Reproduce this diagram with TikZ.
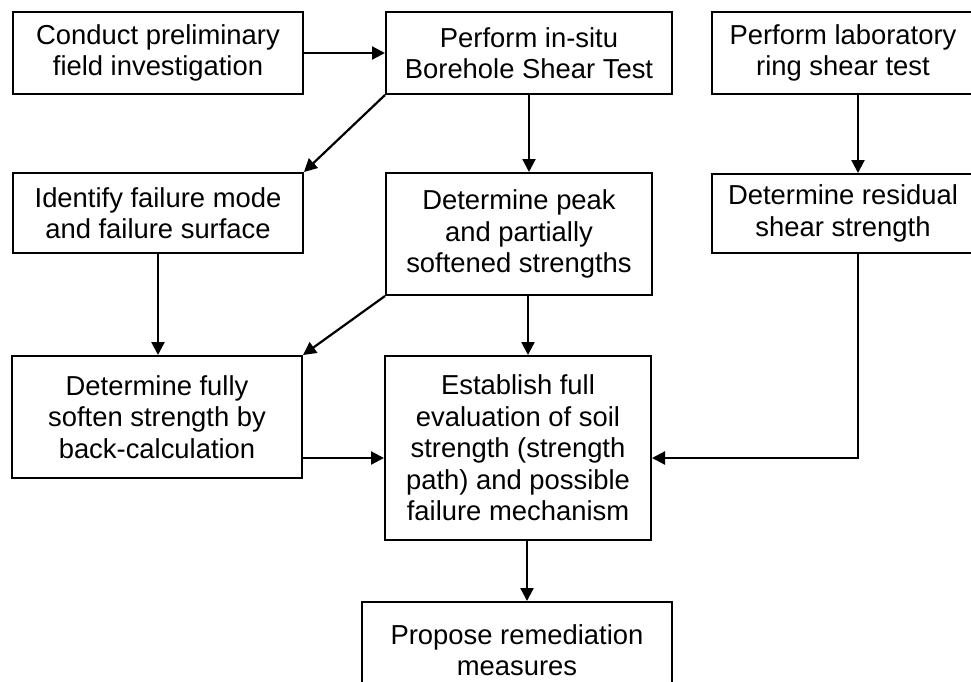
\documentclass[tikz,border=0pt]{standalone}
\usepackage{fontspec}
\setmainfont{Liberation Sans}
\usetikzlibrary{arrows.meta,calc}
\begin{document}
\begin{tikzpicture}[x=1pt,y=-1pt,
  box/.style={draw=black,line width=2pt,inner sep=0pt,align=center,
    font=\fontsize{27.4}{31.5}\selectfont},
  arr/.style={line width=2.2pt,-{Triangle[length=13pt,width=13pt]}}]
\useasboundingbox (0,0) rectangle (971,681);
\clip (0,0) rectangle (971,681);
\fill[white] (0,0) rectangle (971,681);
\node[box,minimum width=290pt,minimum height=82pt] (A) at (158,53) {Conduct preliminary\\field investigation};
\node[box,minimum width=286pt,minimum height=82pt] (B) at (529,53) {Perform in-situ\\Borehole Shear Test};
\node[box,minimum width=262pt,minimum height=82pt] (C) at (843,53) {Perform laboratory\\ring shear test};
\node[box,minimum width=290pt,minimum height=80pt] (D) at (158,213) {Identify failure mode\\and failure surface};
\node[box,minimum width=266pt,minimum height=122pt] (E) at (519,234) {Determine peak\\and partially\\softened strengths};
\node[box,minimum width=262pt,minimum height=79pt] (F) at (843,213.5) {Determine residual\\shear strength};
\node[box,minimum width=290pt,minimum height=122pt] (G) at (157,417) {Determine fully\\soften strength by\\back-calculation};
\node[box,minimum width=266pt,minimum height=184pt] (H) at (518,448) {Establish full\\evaluation of soil\\strength (strength\\path) and possible\\failure mechanism};
\node[box,minimum width=310pt,minimum height=96pt] (I) at (517,650) {Propose remediation\\measures};
\coordinate (ly) at (0,458);
\draw[arr] (A.east) -- (B.west);
\draw[arr] (B.south west) -- (D.north east);
\draw[arr] (B.south) -- (B.south |- E.north);
\draw[arr] ([xshift=15pt]C.south) -- ([xshift=15pt]C.south |- F.north);
\draw[arr] (D.south) -- (D.south |- G.north);
\draw[arr] (E.south west) -- (G.north east);
\draw[arr] ([xshift=9pt]E.south) -- ([xshift=9pt]E.south |- H.north);
\draw[arr] (G.east |- ly) -- (H.west |- ly);
\draw[arr] ([xshift=15pt]F.south) |- (H.east |- ly);
\draw[arr] ([xshift=9pt]H.south) -- ([xshift=9pt]H.south |- I.north);
\end{tikzpicture}
\end{document}
